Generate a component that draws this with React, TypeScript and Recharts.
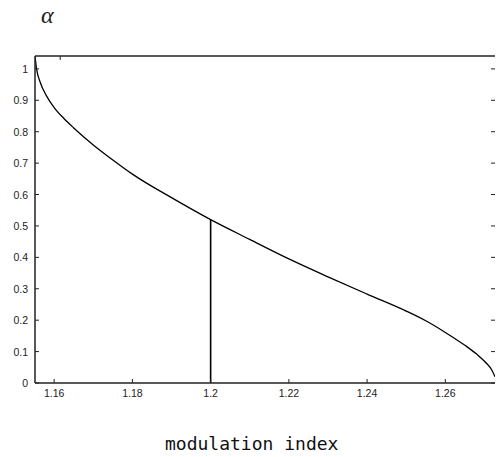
import { LineChart, Line, XAxis, YAxis, ReferenceLine } from 'recharts'

// modulation index vs alpha
const modIndex = [
  1.1551, 1.1555, 1.1565, 1.158, 1.16, 1.1625, 1.165, 1.17, 1.175, 1.18, 1.19,
  1.2, 1.21, 1.22, 1.23, 1.24, 1.25, 1.255, 1.26, 1.265, 1.268, 1.2705, 1.2718, 1.2727,
]
const alpha = [
  1.04, 1.0, 0.955, 0.915, 0.877, 0.842, 0.812, 0.758, 0.71, 0.665, 0.59,
  0.52, 0.457, 0.395, 0.338, 0.283, 0.229, 0.198, 0.161, 0.12, 0.092, 0.063, 0.043, 0.02,
]
const xTicks = [1.16, 1.18, 1.2, 1.22, 1.24, 1.26]
const yTicks = [0, 0.1, 0.2, 0.3, 0.4, 0.5, 0.6, 0.7, 0.8, 0.9, 1]
const markerX = 1.2
const markerTop = 0.52

const xDomain = [1.1551, 1.2727]
const yDomain = [0, 1.041]

const data = modIndex.map((m, i) => ({ m, a: alpha[i] }))

const ink = '#222'
const font = 'Liberation Sans, Arial, sans-serif'

// gnuplot-ish ticks: short marks pointing into the plot
const BottomTick = (p: any) => (
  <g>
    <line x1={p.x} y1={p.y} x2={p.x} y2={p.y - 4} stroke={ink} strokeWidth={1} />
    <text x={p.x} y={p.y + 14} textAnchor="middle" fontSize={10.5} fill={ink} fontFamily={font}>
      {String(p.payload.value)}
    </text>
  </g>
)
const TopTick = (p: any) => (
  <line x1={p.x} y1={p.y} x2={p.x} y2={p.y + 4} stroke={ink} strokeWidth={1} />
)
const LeftTick = (p: any) => (
  <g>
    <line x1={p.x} y1={p.y} x2={p.x + 4} y2={p.y} stroke={ink} strokeWidth={1} />
    <text x={p.x - 7} y={p.y + 4} textAnchor="end" fontSize={10.5} fill={ink} fontFamily={font}>
      {String(p.payload.value)}
    </text>
  </g>
)
const RightTick = (p: any) => (
  <line x1={p.x} y1={p.y} x2={p.x - 4} y2={p.y} stroke={ink} strokeWidth={1} />
)

export default function App() {
  return (
    <div style={{ position: 'absolute', left: 0, top: 0, width: 496, height: 457, background: '#fff' }}>
      <div
        style={{
          position: 'absolute',
          left: 41,
          top: 0,
          fontFamily: 'Liberation Serif, serif',
          fontStyle: 'italic',
          fontSize: 24,
          lineHeight: '30px',
          color: '#222',
        }}
      >
        α
      </div>
      <LineChart width={496} height={457} data={data} margin={{ top: 55, right: 0, bottom: 54, left: 0 }}>
        <XAxis
          xAxisId="b"
          dataKey="m"
          type="number"
          domain={xDomain}
          allowDataOverflow
          ticks={xTicks}
          height={20}
          tickSize={0}
          tickMargin={0}
          tickLine={false}
          tick={BottomTick}
          stroke={ink}
          strokeWidth={1.5}
        />
        <XAxis
          xAxisId="t"
          orientation="top"
          type="number"
          domain={xDomain}
          allowDataOverflow
          ticks={xTicks}
          height={1}
          tickSize={0}
          tickMargin={0}
          tickLine={false}
          tick={TopTick}
          stroke={ink}
          strokeWidth={1.5}
        />
        <YAxis
          yAxisId="l"
          type="number"
          domain={yDomain}
          allowDataOverflow
          ticks={yTicks}
          width={35}
          tickSize={0}
          tickMargin={0}
          tickLine={false}
          tick={LeftTick}
          stroke={ink}
          strokeWidth={1.5}
        />
        <YAxis
          yAxisId="r"
          orientation="right"
          type="number"
          domain={yDomain}
          allowDataOverflow
          ticks={yTicks}
          width={1}
          tickSize={0}
          tickMargin={0}
          tickLine={false}
          tick={RightTick}
          axisLine={false}
        />
        <ReferenceLine
          xAxisId="b"
          yAxisId="l"
          segment={[{ x: markerX, y: 0 }, { x: markerX, y: markerTop }]}
          stroke="#000"
          strokeWidth={1.6}
        />
        <Line
          xAxisId="b"
          yAxisId="l"
          type="monotone"
          dataKey="a"
          stroke="#000"
          strokeWidth={1.3}
          dot={false}
          isAnimationActive={false}
        />
      </LineChart>
      <div
        style={{
          position: 'absolute',
          left: 165,
          top: 433,
          fontFamily: 'DejaVu Sans Mono, monospace',
          fontSize: 18,
          lineHeight: '22px',
          color: '#111',
          whiteSpace: 'nowrap',
        }}
      >
        modulation index
      </div>
    </div>
  )
}
